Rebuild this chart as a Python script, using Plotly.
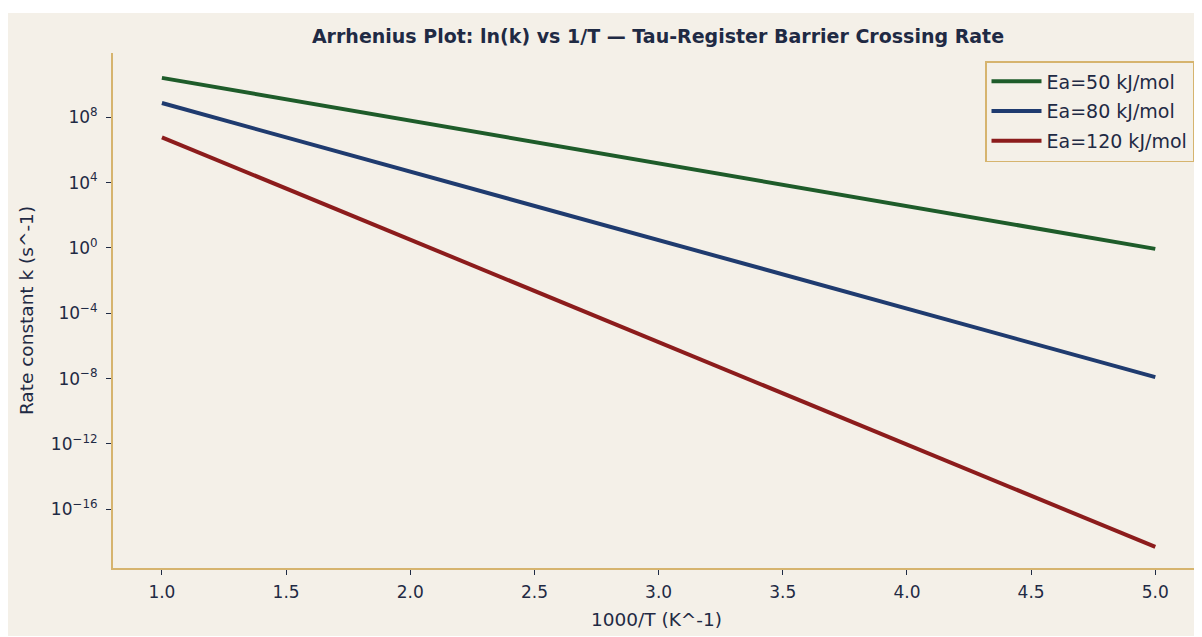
import plotly.graph_objects as go

inv_T = [1.0, 1.5, 2.0, 2.5, 3.0, 3.5, 4.0, 4.5, 5.0]
k_ea50 = [2.6e10, 1.3e9, 6.3e7, 3.1e6, 1.5e5, 7.4e3, 360, 17.6, 0.88]
k_ea80 = [7.5e8, 6.0e6, 4.8e4, 380, 3.0, 0.024, 1.9e-4, 1.55e-6, 1.22e-8]
k_ea120 = [6.0e6, 4.4e3, 3.2, 2.3e-3, 1.7e-6, 1.25e-9, 9.0e-13, 6.6e-16, 4.9e-19]
series_names = ["Ea=50 kJ/mol", "Ea=80 kJ/mol", "Ea=120 kJ/mol"]
colors = ["#1E5C2A", "#1F3B6F", "#8C1C1C"]
x_ticks = [1.0, 1.5, 2.0, 2.5, 3.0, 3.5, 4.0, 4.5, 5.0]
y_exps = [8, 4, 0, -4, -8, -12, -16]

BG = "#F4F0E8"
GOLD = "#D6B46E"
TXT = "#1F2A44"
FONT = "DejaVu Sans"

fig = go.Figure()
for name, ys, c in zip(series_names, [k_ea50, k_ea80, k_ea120], colors):
    fig.add_trace(go.Scatter(x=inv_T, y=ys, mode="lines", name=name,
                             legendgroup=name,
                             line=dict(color=c, width=4)))

OFF = 8  # page body margin
W, H = 1202, 637
ml, mt = 113 - OFF, 53 - OFF
plot_right, plot_bottom = 1200 - OFF, 568 - OFF
mr, mb = W - plot_right, H - plot_bottom
pw, ph = plot_right - ml, plot_bottom - mt

def px_x(p):  # page pixel -> paper x
    return (p - OFF - ml) / pw

def px_y(p):  # page pixel -> paper y
    return (plot_bottom - (p - OFF)) / ph

fig.add_shape(type="rect", xref="paper", yref="paper",
              x0=px_x(7), x1=px_x(1260), y0=px_y(636), y1=px_y(13),
              fillcolor=BG, line=dict(width=0), layer="below")

fig.update_layout(
    width=W, height=H,
    margin=dict(l=ml, r=mr, t=mt, b=mb),
    paper_bgcolor="white", plot_bgcolor="rgba(0,0,0,0)",
    font=dict(family=FONT, color=TXT, size=17),
    title=dict(text="<b>Arrhenius Plot: ln(k) vs 1/T — Tau-Register Barrier Crossing Rate</b>",
               x=px_x(658), xref="paper", xanchor="center",
               y=1 - (36 - OFF) / H, yanchor="middle",
               font=dict(family=FONT, size=19, color=TXT)),
    legend=dict(x=px_x(1194), xanchor="right", y=px_y(61), yanchor="top",
                bgcolor=BG, bordercolor=GOLD, borderwidth=1.5,
                font=dict(family=FONT, size=19, color=TXT),
                itemwidth=50, tracegroupgap=2),
    showlegend=True,
)

fig.update_xaxes(range=[0.803, 5.18], tickmode="array",
                 tickvals=x_ticks, ticktext=[f"{v:.1f}" for v in x_ticks],
                 showgrid=False, zeroline=False,
                 showline=True, linecolor=GOLD, linewidth=2,
                 ticks="outside", ticklen=5, tickcolor=TXT, tickwidth=1,
                 ticklabelstandoff=3,
                 tickfont=dict(size=17, color=TXT),
                 title=dict(text="1000/T (K^-1)", font=dict(size=18.5, color=TXT), standoff=12))

fig.update_yaxes(type="log", range=[-19.6, 11.94], tickmode="array",
                 tickvals=[10.0 ** e for e in y_exps],
                 ticktext=[f"10<sup>{str(e).replace('-', '−')}</sup>" for e in y_exps],
                 showgrid=False, zeroline=False,
                 showline=True, linecolor=GOLD, linewidth=2,
                 ticks="outside", ticklen=5, tickcolor=TXT, tickwidth=1,
                 ticklabelstandoff=5,
                 tickfont=dict(size=17, color=TXT),
                 title=dict(text="Rate constant k (s^-1)", font=dict(size=18.5, color=TXT), standoff=12))

fig.write_html("out.html")
